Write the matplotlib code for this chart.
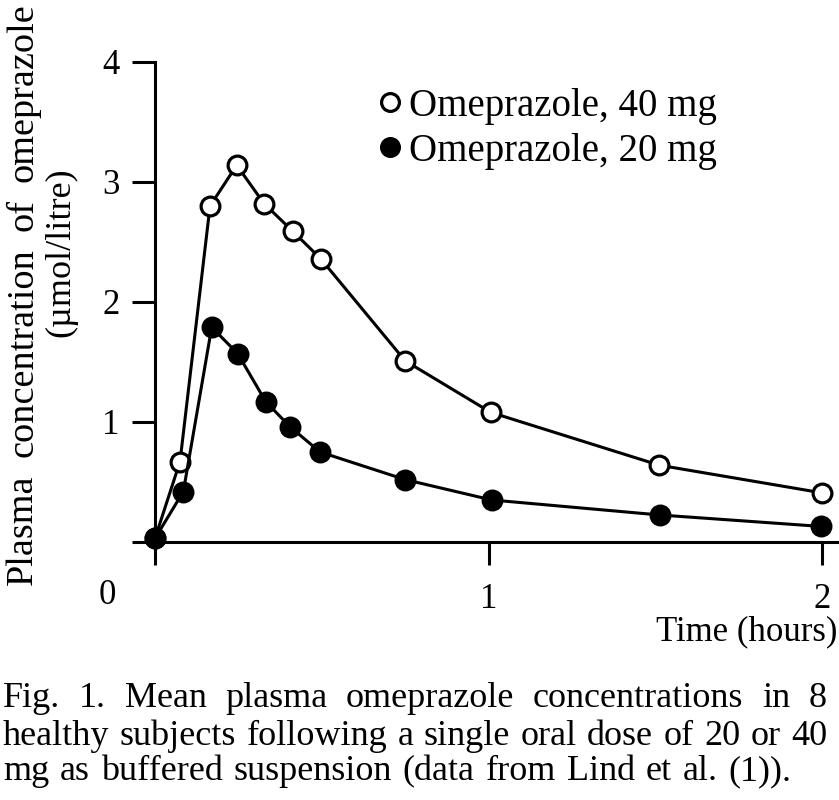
import matplotlib
matplotlib.use('Agg')
import matplotlib.pyplot as plt

plt.rcParams['font.family'] = ['Liberation Serif', 'DejaVu Serif']

# values (time in hours, concentration in umol/litre)
time_40 = [0, 0.075, 0.165, 0.245, 0.327, 0.413, 0.497, 0.75, 1.007, 1.512, 1.999]
conc_40 = [0.03, 0.67, 2.80, 3.14, 2.82, 2.59, 2.36, 1.51, 1.08, 0.64, 0.41]
time_20 = [0, 0.085, 0.17, 0.248, 0.332, 0.405, 0.495, 0.75, 1.01, 1.514, 1.996]
conc_20 = [0.03, 0.42, 1.79, 1.57, 1.17, 0.96, 0.75, 0.52, 0.35, 0.225, 0.13]

x_ticks = [0, 1, 2]
x_labels = ['', '1', '2']
y_ticks = [0, 1, 2, 3, 4]
y_labels = ['', '1', '2', '3', '4']

caption = [
    'Fig. 1. Mean plasma omeprazole concentrations in 8',
    'healthy subjects following a single oral dose of 20 or 40',
    'mg as buffered suspension (data from Lind et al. (1)).',
]

W, H = 839, 800
fig = plt.figure(figsize=(W / 100, H / 100), dpi=100)
ax = fig.add_axes([155 / W, 1 - 542 / H, (838 - 155) / W, (542 - 62) / H])

ax.plot(time_40, conc_40, '-o', color='black', mfc='white', mec='black',
        ms=13.5, mew=2.3, lw=2.2, clip_on=False, zorder=3,
        label='Omeprazole, 40 mg')
ax.plot(time_20, conc_20, '-o', color='black', mfc='black', mec='black',
        ms=13.5, mew=2.3, lw=2.2, clip_on=False, zorder=4,
        label='Omeprazole, 20 mg')

ax.set_xlim(0, (838 - 155) / 333.5)
ax.set_ylim(0, 4)
for s in ['top', 'right']:
    ax.spines[s].set_visible(False)
for s in ['left', 'bottom']:
    ax.spines[s].set_linewidth(2.2)

ax.set_xticks(x_ticks)
ax.set_xticklabels(x_labels)
ax.set_yticks(y_ticks)
ax.set_yticklabels(y_labels)
ax.tick_params(length=16.5, width=2.2, labelsize=25, direction='out')
ax.tick_params(axis='x', pad=13)
ax.tick_params(axis='y', pad=9)

ax.legend(loc='upper left', bbox_to_anchor=(390 / W, 1 - 88 / H),
          bbox_transform=fig.transFigure, frameon=False, fontsize=28,
          handlelength=0, handletextpad=0.5, labelspacing=0.2,
          borderpad=0, borderaxespad=0, markerscale=0.95)

fig.text(107 / W, 1 - 595 / H, '0', ha='center', va='center', fontsize=25)
fig.text(837 / W, 1 - 640 / H, 'Time (hours)', ha='right', va='baseline',
         fontsize=25)

renderer = fig.canvas.get_renderer()

# y label, first line spread along the axis up to the top edge
words = 'Plasma concentration of omeprazole'.split()
txts = [fig.text(0, 0, w, rotation=90, rotation_mode='anchor', ha='left',
                 va='baseline', fontsize=27.5) for w in words]
lens = [t.get_window_extent(renderer).height for t in txts]
gap = (582 - sum(lens)) / (len(words) - 1)
y = 585
for t, L in zip(txts, lens):
    t.set_position((32 / W, 1 - y / H))
    y -= L + gap

fig.text(69 / W, 1 - 337 / H, '(\u00b5mol/litre)', rotation=90,
         rotation_mode='anchor', ha='left', va='baseline', fontsize=26)

# caption, justified like the printed page
baselines = [707, 745, 780]
for i, (line, yb) in enumerate(zip(caption, baselines)):
    words = line.split()
    txts = [fig.text(0, 0, w, ha='left', va='baseline', fontsize=26)
            for w in words]
    wid = [t.get_window_extent(renderer).width for t in txts]
    if i < len(caption) - 1:
        gap = (827 - 3 - sum(wid)) / (len(words) - 1)
    else:
        gap = txts[0].get_fontsize() * 100 / 72 * 0.3
    x = 3
    for t, w in zip(txts, wid):
        t.set_position((x / W, 1 - yb / H))
        x += w + gap

fig.savefig('out.png', dpi=100)
